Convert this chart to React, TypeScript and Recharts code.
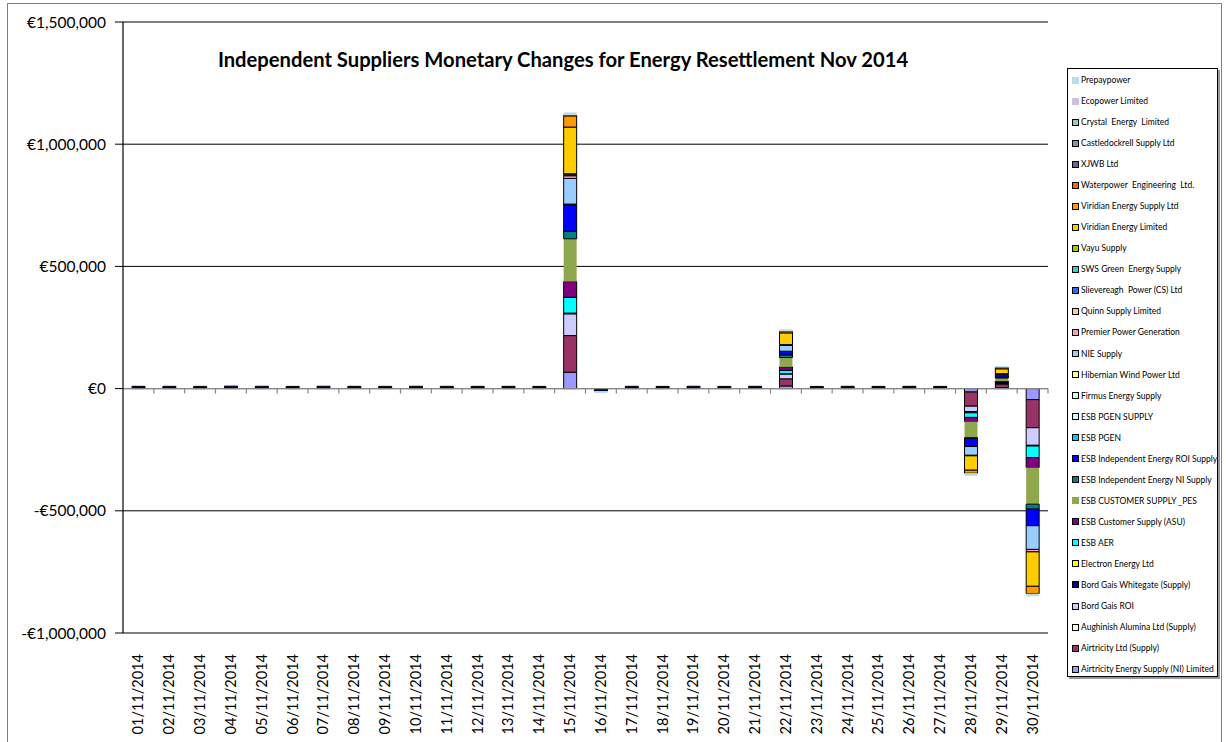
import React from 'react';
import { BarChart, Bar, XAxis, YAxis, CartesianGrid, ReferenceLine } from 'recharts';

const dates = [
  '01/11/2014', '02/11/2014', '03/11/2014', '04/11/2014', '05/11/2014', '06/11/2014',
  '07/11/2014', '08/11/2014', '09/11/2014', '10/11/2014', '11/11/2014', '12/11/2014',
  '13/11/2014', '14/11/2014', '15/11/2014', '16/11/2014', '17/11/2014', '18/11/2014',
  '19/11/2014', '20/11/2014', '21/11/2014', '22/11/2014', '23/11/2014', '24/11/2014',
  '25/11/2014', '26/11/2014', '27/11/2014', '28/11/2014', '29/11/2014', '30/11/2014',
];

const yTicks = [-1000000, -500000, 0, 500000, 1000000, 1500000];

const airtricityNI = [0,0,0,0,0,0,0,0,0,0,0,0,0,0,67000,0,0,0,0,0,0,11000,0,0,0,0,0,-14000,4000,-45000];
const airtricityLtd = [4200,3800,4000,3600,4100,3900,4300,3700,4000,4100,3800,3900,4200,3600,150000,-3000,4000,3800,4100,3900,4000,29000,3700,4100,3900,4000,3800,-58000,14000,-115000];
const aughinish = [0,0,0,0,0,0,0,0,0,0,0,0,0,0,0,0,0,0,0,0,0,0,0,0,0,0,0,0,0,0];
const bordGaisROI = [0,0,0,0,0,0,0,0,0,0,0,0,0,0,89000,0,0,0,0,0,0,20000,0,0,0,0,0,-22000,3000,-72000];
const bordGaisWhitegate = [5200,5500,5000,6500,5400,5100,5300,5600,5200,5400,5500,5300,5100,5400,3000,-7000,5300,5200,5500,5100,5400,1000,5200,5300,5100,5400,5200,-2000,2000,-3000];
const electron = [0,0,0,0,0,0,0,0,0,0,0,0,0,0,0,0,0,0,0,0,0,0,0,0,0,0,0,-3000,0,0];
const esbAER = [0,0,0,0,0,0,0,0,0,0,0,0,0,0,65000,0,0,0,0,0,0,14000,0,0,0,0,0,-19000,2000,-47000];
const esbASU = [0,0,0,0,0,0,0,0,0,0,0,0,0,0,64000,0,0,0,0,0,0,14000,0,0,0,0,0,-17000,6000,-41000];
const esbPES = [0,0,0,0,0,0,0,0,0,0,0,0,0,0,175000,0,0,0,0,0,0,38000,0,0,0,0,0,-66000,12000,-150000];
const esbNI = [0,0,0,0,0,0,0,0,0,0,0,0,0,0,31000,0,0,0,0,0,0,11000,0,0,0,0,0,-3000,4000,-20000];
const esbROI = [0,0,0,0,0,0,0,0,0,0,0,0,0,0,107000,0,0,0,0,0,0,15000,0,0,0,0,0,-33000,10000,-68000];
const esbPGEN = [0,0,0,0,0,0,0,0,0,0,0,0,0,0,2000,0,0,0,0,0,0,0,0,0,0,0,0,0,0,0];
const esbPGENSupply = [0,0,0,0,0,0,0,0,0,0,0,0,0,0,0,0,0,0,0,0,0,0,0,0,0,0,0,0,0,0];
const firmus = [0,0,0,0,0,0,0,0,0,0,0,0,0,0,0,0,0,0,0,0,0,0,0,0,0,0,0,0,0,0];
const hibernian = [0,0,0,0,0,0,0,0,0,0,0,0,0,0,2000,0,0,0,0,0,0,0,0,0,0,0,0,0,0,0];
const nieSupply = [0,0,0,0,0,0,0,0,0,0,0,0,0,0,105000,0,0,0,0,0,0,24000,0,0,0,0,0,-36000,4000,-97000];
const premierPower = [0,0,0,0,0,0,0,0,0,0,0,0,0,0,11000,0,0,0,0,0,0,3000,0,0,0,0,0,-2000,0,-10000];
const quinn = [0,0,0,0,0,0,0,0,0,0,0,0,0,0,4000,0,0,0,0,0,0,0,0,0,0,0,0,0,0,0];
const slievereagh = [0,0,0,0,0,0,0,0,0,0,0,0,0,0,0,0,0,0,0,0,0,0,0,0,0,0,0,0,0,0];
const swsGreen = [0,0,0,0,0,0,0,0,0,0,0,0,0,0,0,0,0,0,0,0,0,0,0,0,0,0,0,0,0,0];
const vayu = [0,0,0,0,0,0,0,0,0,0,0,0,0,0,4000,0,0,0,0,0,0,0,0,0,0,0,0,0,0,0];
const viridianLtd = [0,0,0,0,0,0,0,0,0,0,0,0,0,0,191000,0,0,0,0,0,0,48000,0,0,0,0,0,-59000,20000,-141000];
const viridianSupply = [0,0,0,0,0,0,0,0,0,0,0,0,0,0,46000,0,0,0,0,0,0,6000,0,0,0,0,0,-12000,5000,-30000];
const waterpower = [0,0,0,0,0,0,0,0,0,0,0,0,0,0,2000,0,0,0,0,0,0,0,0,0,0,0,0,0,0,0];
const xjwb = [0,0,0,0,0,0,0,0,0,0,0,0,0,0,0,0,0,0,0,0,0,0,0,0,0,0,0,0,0,0];
const castledockrell = [0,0,0,0,0,0,0,0,0,0,0,0,0,0,0,0,0,0,0,0,0,0,0,0,0,0,0,0,0,0];
const crystal = [0,0,0,0,0,0,0,0,0,0,0,0,0,0,0,0,0,0,0,0,0,0,0,0,0,0,0,0,0,0];
const ecopower = [0,0,0,0,0,0,0,0,0,0,0,0,0,0,3000,0,0,0,0,0,0,3000,0,0,0,0,0,0,0,0];
const prepaypower = [-5500,-5300,-5600,-5400,-5500,-5700,-5400,-5500,-5300,-5600,-5500,-5400,-5600,-5500,9000,-8000,-5400,-5500,-5600,-5300,-5500,6000,-5400,-5500,-5600,-5400,-5500,-11000,6000,-11000];

// bottom of stack first (legend is shown in reverse)
const seriesDefs = [
  { key: 's0', name: 'Airtricity Energy Supply (NI) Limited', values: airtricityNI, fill: '#9999FF', stroke: '#000' },
  { key: 's1', name: 'Airtricity Ltd (Supply)', values: airtricityLtd, fill: '#993366', stroke: '#000' },
  { key: 's2', name: 'Aughinish Alumina Ltd (Supply)', values: aughinish, fill: '#FFFFCC', stroke: '#000' },
  { key: 's3', name: 'Bord Gais ROI', values: bordGaisROI, fill: '#CCCCFF', stroke: '#000' },
  { key: 's4', name: 'Bord Gais Whitegate (Supply)', values: bordGaisWhitegate, fill: '#000080', stroke: '#000' },
  { key: 's5', name: 'Electron Energy Ltd', values: electron, fill: '#FFFF00', stroke: '#000' },
  { key: 's6', name: 'ESB AER', values: esbAER, fill: '#00FFFF', stroke: '#000' },
  { key: 's7', name: 'ESB Customer Supply (ASU)', values: esbASU, fill: '#800080', stroke: '#000' },
  { key: 's8', name: 'ESB CUSTOMER SUPPLY _PES', values: esbPES, fill: '#8FA84E', stroke: 'none' },
  { key: 's9', name: 'ESB Independent Energy NI Supply', values: esbNI, fill: '#008080', stroke: '#000' },
  { key: 's10', name: 'ESB Independent Energy ROI Supply', values: esbROI, fill: '#0000FF', stroke: '#000' },
  { key: 's11', name: 'ESB PGEN', values: esbPGEN, fill: '#00CCFF', stroke: '#000' },
  { key: 's12', name: 'ESB PGEN SUPPLY', values: esbPGENSupply, fill: '#CCFFFF', stroke: '#000' },
  { key: 's13', name: 'Firmus Energy Supply', values: firmus, fill: '#CCFFCC', stroke: '#000' },
  { key: 's14', name: 'Hibernian Wind Power Ltd', values: hibernian, fill: '#FFFF99', stroke: '#000' },
  { key: 's15', name: 'NIE Supply', values: nieSupply, fill: '#99CCFF', stroke: '#000' },
  { key: 's16', name: 'Premier Power Generation', values: premierPower, fill: '#FF99CC', stroke: '#000' },
  { key: 's17', name: 'Quinn Supply Limited', values: quinn, fill: '#FFCC99', stroke: '#000' },
  { key: 's18', name: 'Slievereagh  Power (CS) Ltd', values: slievereagh, fill: '#3366FF', stroke: '#000' },
  { key: 's19', name: 'SWS Green  Energy Supply', values: swsGreen, fill: '#33CCCC', stroke: '#000' },
  { key: 's20', name: 'Vayu Supply', values: vayu, fill: '#99CC00', stroke: '#000' },
  { key: 's21', name: 'Viridian Energy Limited', values: viridianLtd, fill: '#FFCC00', stroke: '#000' },
  { key: 's22', name: 'Viridian Energy Supply Ltd', values: viridianSupply, fill: '#FF9900', stroke: '#000' },
  { key: 's23', name: 'Waterpower  Engineering  Ltd.', values: waterpower, fill: '#FF6600', stroke: '#000' },
  { key: 's24', name: 'XJWB Ltd', values: xjwb, fill: '#666699', stroke: '#000' },
  { key: 's25', name: 'Castledockrell Supply Ltd', values: castledockrell, fill: '#7F93AE', stroke: '#000' },
  { key: 's26', name: 'Crystal  Energy  Limited', values: crystal, fill: '#9ACDB4', stroke: '#000' },
  { key: 's27', name: 'Ecopower Limited', values: ecopower, fill: '#CCC0DA', stroke: 'none' },
  { key: 's28', name: 'Prepaypower', values: prepaypower, fill: '#B7DEE8', stroke: 'none' },
];

const data = dates.map((d, i) => {
  const row: Record<string, any> = { date: d };
  seriesDefs.forEach((s) => { row[s.key] = s.values[i]; });
  return row;
});

const FONT = 'Lato, "Open Sans", "DejaVu Sans", sans-serif';

const fmtEuro = (v: number) => {
  const abs = Math.abs(v).toLocaleString('en-US');
  return (v < 0 ? '-' : '') + '\u20AC' + abs;
};

const XTick = (props: any) => {
  const { x, y, payload } = props;
  return (
    <text
      x={x}
      y={y}
      transform={`rotate(-90, ${x}, ${y})`}
      textAnchor="end"
      dy="0.35em"
      fontSize={14.5}
      fontFamily={FONT}
      fill="#000"
    >
      {payload.value}
    </text>
  );
};

const ZeroLine = (props: any) => {
  const { x1, x2, y1 } = props;
  if (x1 == null || x2 == null || y1 == null) return <g />;
  const step = (x2 - x1) / dates.length;
  return (
    <g>
      <line x1={x1} x2={x2} y1={y1} y2={y1} stroke="#868686" strokeWidth={1.2} />
      {dates.map((d, i) => (
        <line key={d} x1={x1 + step * (i + 1)} x2={x1 + step * (i + 1)} y1={y1} y2={y1 + 5} stroke="#868686" strokeWidth={1.2} />
      ))}
    </g>
  );
};

export default function App() {
  const legendItems = [...seriesDefs].reverse();
  return (
    <div style={{ position: 'absolute', left: 0, top: 0, width: 1226, height: 742, overflow: 'hidden', background: '#fff' }}>
      <div style={{ position: 'absolute', left: 7, top: 3, width: 1213, height: 760, border: '1px solid #808080' }} />
      <div style={{ position: 'absolute', left: 0, top: 0 }}>
        <BarChart
          width={1226}
          height={742}
          data={data}
          stackOffset="sign"
          barSize={13}
          margin={{ top: 22, right: 178, bottom: 9, left: 23 }}
        >
          <CartesianGrid vertical={false} stroke="#000" strokeWidth={1} />
          <XAxis
            dataKey="date"
            height={100}
            axisLine={false}
            tickLine={false}
            interval={0}
            tick={<XTick />}
            tickMargin={15}
          />
          <YAxis
            width={100}
            domain={[-1000000, 1500000]}
            ticks={yTicks}
            tickFormatter={fmtEuro}
            axisLine={{ stroke: '#000', strokeWidth: 1.2 }}
            tickLine={{ stroke: '#000' }}
            tickSize={8}
            tickMargin={9}
            tick={{ fontSize: 15.5, fontFamily: FONT, fill: '#000' }}
            interval={0}
          />
          <ReferenceLine y={0} shape={<ZeroLine />} ifOverflow="extendDomain" />
          {seriesDefs.map((s) => (
            <Bar
              key={s.key}
              dataKey={s.key}
              name={s.name}
              stackId="a"
              fill={s.fill}
              stroke={s.stroke}
              strokeWidth={1}
              isAnimationActive={false}
            />
          ))}
        </BarChart>
      </div>
      <div
        style={{
          position: 'absolute', left: 0, width: 1126, top: 47, textAlign: 'center',
          fontFamily: FONT, fontWeight: 'bold', fontSize: 20.2, color: '#000',
        }}
      >
        Independent Suppliers Monetary Changes for Energy Resettlement Nov 2014
      </div>
      <div
        style={{
          position: 'absolute', left: 1067, top: 68, width: 149, height: 607,
          border: '1px solid #000', boxShadow: '2px 2px 0 #999', background: '#fff',
          fontFamily: FONT, fontSize: 8.5, color: '#000',
        }}
      >
        {legendItems.map((s, i) => (
          <div
            key={s.key}
            style={{ position: 'absolute', left: 4, top: 6 + i * 21.04, height: 10, display: 'flex', alignItems: 'center', whiteSpace: 'pre' }}
          >
            <span
              style={{
                display: 'inline-block', width: s.stroke === 'none' ? 7 : 5, height: s.stroke === 'none' ? 7 : 5,
                background: s.fill, border: s.stroke === 'none' ? 'none' : '1px solid #000', marginRight: 2,
              }}
            />
            <span>{s.name}</span>
          </div>
        ))}
      </div>
    </div>
  );
}
